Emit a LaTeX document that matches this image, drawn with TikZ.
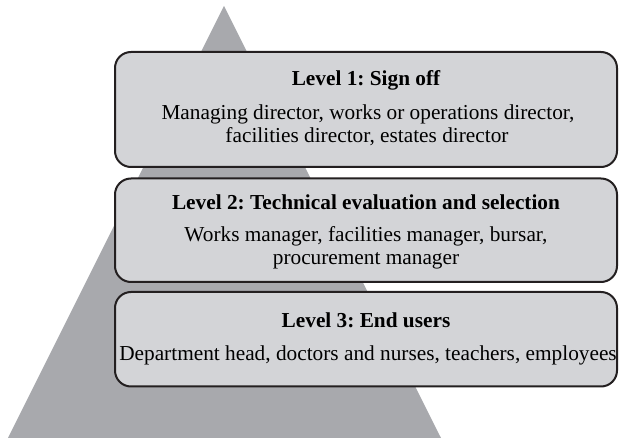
\documentclass[tikz,border=0pt]{standalone}
\usepackage{fontspec}
\setmainfont{Liberation Serif}
\definecolor{trigray}{HTML}{A8A9AD}
\definecolor{boxfill}{HTML}{D3D4D7}
\definecolor{boxline}{HTML}{231F20}
\begin{document}
\frenchspacing
\begin{tikzpicture}[x=1pt,y=-1pt,
  levelbox/.style={draw=boxline,fill=boxfill,line width=2pt,rounded corners=16pt},
  titletext/.style={anchor=base,inner sep=0pt,font=\fontsize{21.3}{23}\selectfont\bfseries,text=black},
  bodytext/.style={anchor=base,inner sep=0pt,font=\fontsize{21.3}{23}\selectfont,text=black}]
\useasboundingbox (0,0) rectangle (619,438);
% pyramid
\fill[trigray] (224,6) -- (441,438) -- (8,438) -- cycle;
% boxes
\draw[levelbox] (115,52) rectangle (617,167);
\draw[levelbox] (115,178.5) rectangle (617,282);
\draw[levelbox] (115,292) rectangle (617,386.5);
% texts
\node[titletext] (t1) at (366,86) {Level 1: Sign off};
\node[bodytext] (b1a) at (368,120) {Managing director, works or operations director,};
\node[bodytext] (b1b) at (367,142.7) {facilities director, estates director};
\node[titletext] (t2) at (366,210) {Level 2: Technical evaluation and selection};
\node[bodytext] (b2a) at (366,241.7) {Works manager, facilities manager, bursar,};
\node[bodytext] (b2b) at (366,264.5) {procurement manager};
\node[titletext] (t3) at (366,328) {Level 3: End users};
\node[bodytext] (b3a) at (368,360.5) {Department head, doctors and nurses, teachers, employees};
\end{tikzpicture}
\end{document}
